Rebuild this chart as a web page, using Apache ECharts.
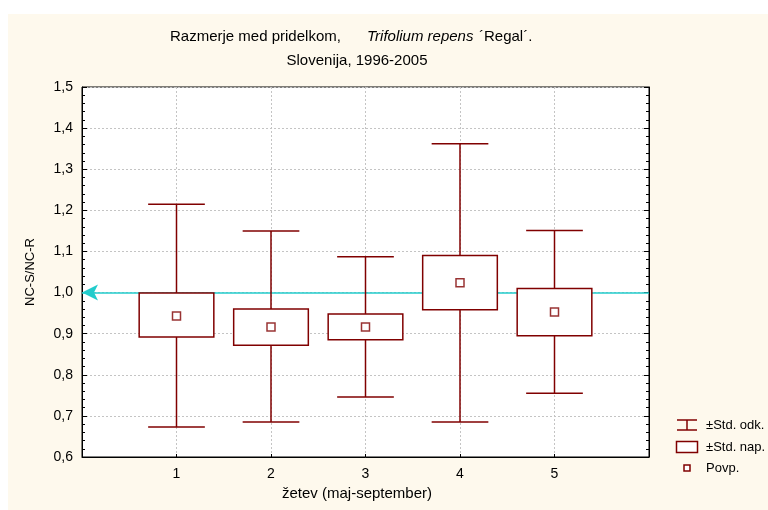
<!DOCTYPE html>
<html>
<head>
<meta charset="utf-8">
<script src="https://cdn.jsdelivr.net/npm/echarts@6/dist/echarts.min.js"></script>
<style>html,body{margin:0;padding:0;background:#fff;}#c{width:768px;height:510px;}</style>
</head>
<body>
<div id="c"></div>
<script>
const categories = [1, 2, 3, 4, 5];
const means  = [0.943, 0.916, 0.916, 1.024, 0.953];
const seLow  = [0.892, 0.872, 0.885, 0.958, 0.895];
const seHigh = [0.999, 0.960, 0.948, 1.090, 1.010];
const sdLow  = [0.673, 0.685, 0.746, 0.685, 0.755];
const sdHigh = [1.215, 1.150, 1.087, 1.362, 1.151];
const yTicks = ['0,6','0,7','0,8','0,9','1,0','1,1','1,2','1,3','1,4','1,5'];
const refValue = 1.0;

const RED = '#800000';
const FONT = 'Liberation Sans, Arial, sans-serif';

const boxData = categories.map((c, i) => [c, sdLow[i], seLow[i], seHigh[i], sdHigh[i]]);
const meanData = categories.map((c, i) => [c, means[i]]);

const chart = echarts.init(document.getElementById('c'), null, {renderer: 'canvas'});
chart.setOption({
  animation: false,
  backgroundColor: '#ffffff',
  textStyle: {fontFamily: FONT},
  graphic: [
    {type: 'rect', z: -10, silent: true, shape: {x: 8, y: 14, width: 760, height: 496}, style: {fill: '#fef9ed'}},
    {type: 'text', x: 170, y: 37, style: {text: 'Razmerje med pridelkom,', font: '15px ' + FONT, fill: '#000', textVerticalAlign: 'middle'}},
    {type: 'text', x: 367, y: 37, style: {text: 'Trifolium repens', font: 'italic 15px ' + FONT, fill: '#000', textVerticalAlign: 'middle'}},
    {type: 'text', x: 479, y: 37, style: {text: '´Regal´.', font: '15px ' + FONT, fill: '#000', textVerticalAlign: 'middle'}},
    {type: 'text', x: 357, y: 61, style: {text: 'Slovenija, 1996-2005', font: '15px ' + FONT, fill: '#000', textAlign: 'center', textVerticalAlign: 'middle'}},
    {type: 'text', x: 357, y: 494, style: {text: 'žetev (maj-september)', font: '15px ' + FONT, fill: '#000', textAlign: 'center', textVerticalAlign: 'middle'}},
    // legend
    {type: 'line', shape: {x1: 677, y1: 420, x2: 697, y2: 420}, style: {stroke: RED, lineWidth: 1.5}},
    {type: 'line', shape: {x1: 687, y1: 420, x2: 687, y2: 430}, style: {stroke: RED, lineWidth: 1.5}},
    {type: 'line', shape: {x1: 677, y1: 430, x2: 697, y2: 430}, style: {stroke: RED, lineWidth: 1.5}},
    {type: 'text', x: 706, y: 425, style: {text: '±Std. odk.', font: '13px ' + FONT, fill: '#000', textVerticalAlign: 'middle'}},
    {type: 'rect', shape: {x: 676.5, y: 441.5, width: 21, height: 11}, style: {stroke: RED, fill: '#fff', lineWidth: 1.5}},
    {type: 'text', x: 706, y: 447, style: {text: '±Std. nap.', font: '13px ' + FONT, fill: '#000', textVerticalAlign: 'middle'}},
    {type: 'rect', shape: {x: 684, y: 465, width: 6, height: 6}, style: {stroke: RED, fill: '#fff', lineWidth: 1.5}},
    {type: 'text', x: 706, y: 468, style: {text: 'Povp.', font: '13px ' + FONT, fill: '#000', textVerticalAlign: 'middle'}}
  ],
  grid: {left: 82, right: 119, top: 87, bottom: 53, show: true, backgroundColor: '#ffffff', borderColor: '#000', borderWidth: 1},
  xAxis: {
    type: 'value', min: 0, max: 6, interval: 1,
    axisLine: {lineStyle: {color: '#000'}},
    axisTick: {inside: true, length: 3, lineStyle: {color: '#000'}},
    axisLabel: {color: '#000', fontSize: 14, fontFamily: FONT, margin: 10,
      formatter: v => (categories.indexOf(v) >= 0 ? String(v) : '')},
    splitLine: {show: true, lineStyle: {color: '#c4c4c4', type: [2, 2]}}
  },
  yAxis: [{
    type: 'value', min: 0.6, max: 1.5, interval: 0.1,
    axisLine: {show: true, lineStyle: {color: '#000'}},
    axisTick: {inside: true, length: 5, lineStyle: {color: '#000'}},
    minorTick: {show: true, splitNumber: 5, length: 3, lineStyle: {color: '#000'}},
    axisLabel: {color: '#000', fontSize: 14, fontFamily: FONT, margin: 9,
      formatter: v => yTicks[Math.round((v - 0.6) * 10)]},
    splitLine: {show: true, lineStyle: {color: '#c4c4c4', type: [2, 2]}},
    name: 'NC-S/NC-R', nameLocation: 'middle', nameGap: 45, nameRotate: 90,
    nameTextStyle: {color: '#000', fontSize: 13, fontFamily: FONT}
  }, {
    type: 'value', min: 0.6, max: 1.5, interval: 0.1, position: 'right',
    axisLine: {show: true, lineStyle: {color: '#000'}},
    axisTick: {inside: true, length: 5, lineStyle: {color: '#000'}},
    minorTick: {show: true, splitNumber: 5, length: 3, lineStyle: {color: '#000'}},
    axisLabel: {show: false}, splitLine: {show: false}
  }],
  series: [{
    type: 'custom',
    data: boxData,
    z: 5,
    renderItem: function (params, api) {
      const x = api.value(0);
      const pLo = api.coord([x, api.value(1)]);
      const pQ1 = api.coord([x, api.value(2)]);
      const pQ3 = api.coord([x, api.value(3)]);
      const pHi = api.coord([x, api.value(4)]);
      const boxW = api.size([0.79, 0])[0];
      const capW = api.size([0.6, 0])[0];
      const st = {stroke: RED, lineWidth: 1.5, fill: null};
      return {type: 'group', children: [
        {type: 'line', shape: {x1: pHi[0], y1: pHi[1], x2: pQ3[0], y2: pQ3[1]}, style: st},
        {type: 'line', shape: {x1: pQ1[0], y1: pQ1[1], x2: pLo[0], y2: pLo[1]}, style: st},
        {type: 'line', shape: {x1: pHi[0] - capW / 2, y1: pHi[1], x2: pHi[0] + capW / 2, y2: pHi[1]}, style: st},
        {type: 'line', shape: {x1: pLo[0] - capW / 2, y1: pLo[1], x2: pLo[0] + capW / 2, y2: pLo[1]}, style: st},
        {type: 'rect', shape: {x: pQ3[0] - boxW / 2, y: pQ3[1], width: boxW, height: pQ1[1] - pQ3[1]},
          style: {stroke: RED, lineWidth: 1.5, fill: '#fff'}}
      ]};
    },
    markLine: {
      silent: true, symbol: ['arrow', 'none'], symbolSize: [12, 16],
      label: {show: false},
      lineStyle: {color: '#22cccc', width: 1.5, type: 'solid'},
      data: [{yAxis: refValue}]
    }
  }, {
    type: 'scatter', data: meanData, z: 6,
    symbol: 'rect', symbolSize: 8,
    itemStyle: {color: '#fff', borderColor: RED, borderWidth: 1.5}
  }]
});
</script>
</body>
</html>
